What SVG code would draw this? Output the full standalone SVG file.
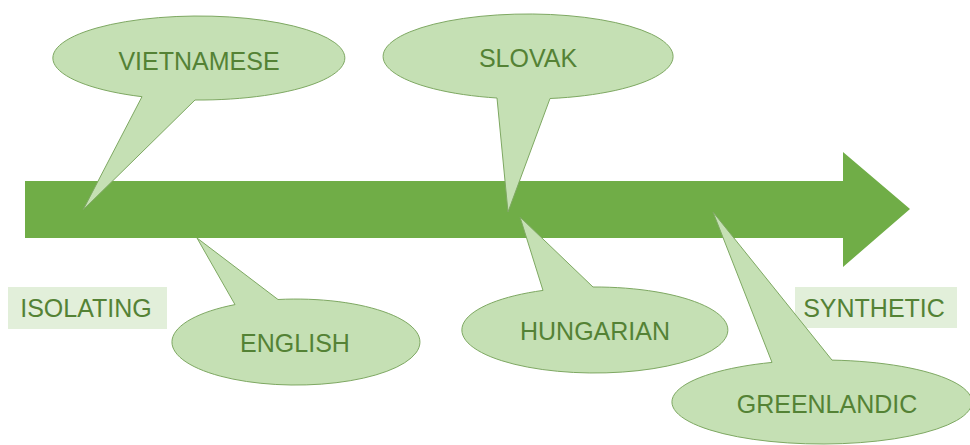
<svg xmlns="http://www.w3.org/2000/svg" width="970" height="445" viewBox="0 0 970 445">
  <style>
    .callout { fill: #c5e0b4; stroke: #7ea862; stroke-width: 1; }
    .lbl { font-family: "Liberation Sans", Arial, sans-serif; font-size: 25px; fill: #548235; text-anchor: middle; }
    .pole { fill: #e2efda; }
  </style>
  <rect width="970" height="445" fill="#ffffff"/>

  <!-- main arrow: isolating to synthetic -->
  <g id="timeline">
    <path d="M25,181 L843,181 L843,152 L910,209 L843,267 L843,238 L25,238 Z" fill="#70ad47"/>
  </g>

  <!-- end labels -->
  <g id="isolating">
    <rect class="pole" x="8" y="287" width="159" height="42"/>
    <text class="lbl" x="86" y="317">ISOLATING</text>
  </g>
  <g id="synthetic">
    <rect class="pole" x="795" y="287" width="162" height="41"/>
    <text class="lbl" x="874" y="317">SYNTHETIC</text>
  </g>

  <!-- callouts pointing at the arrow -->
  <g id="vietnamese">
    <path class="callout" d="M142,96.7 L83,210 L195,100 A146 42 0 1 0 142,96.7 Z"/>
    <text class="lbl" x="199" y="70">VIETNAMESE</text>
  </g>
  <g id="slovak">
    <path class="callout" d="M497,98 L508,212 L550,98.5 A145 42.5 0 1 0 497,98 Z"/>
    <text class="lbl" x="528" y="67">SLOVAK</text>
  </g>
  <g id="english">
    <path class="callout" d="M278,299.5 L197,238 L235,304.6 A124 43 0 1 0 278,299.5 Z"/>
    <text class="lbl" x="295" y="352">ENGLISH</text>
  </g>
  <g id="hungarian">
    <path class="callout" d="M593,287 L520,217 L543,290.4 A133 43 0 1 0 593,287 Z"/>
    <text class="lbl" x="595" y="340">HUNGARIAN</text>
  </g>
  <g id="greenlandic">
    <path class="callout" d="M832,360.1 L713,212 L772,362.4 A150 42 0 1 0 832,360.1 Z"/>
    <text class="lbl" x="827" y="413">GREENLANDIC</text>
  </g>

  <g id="connectors"/>
</svg>
